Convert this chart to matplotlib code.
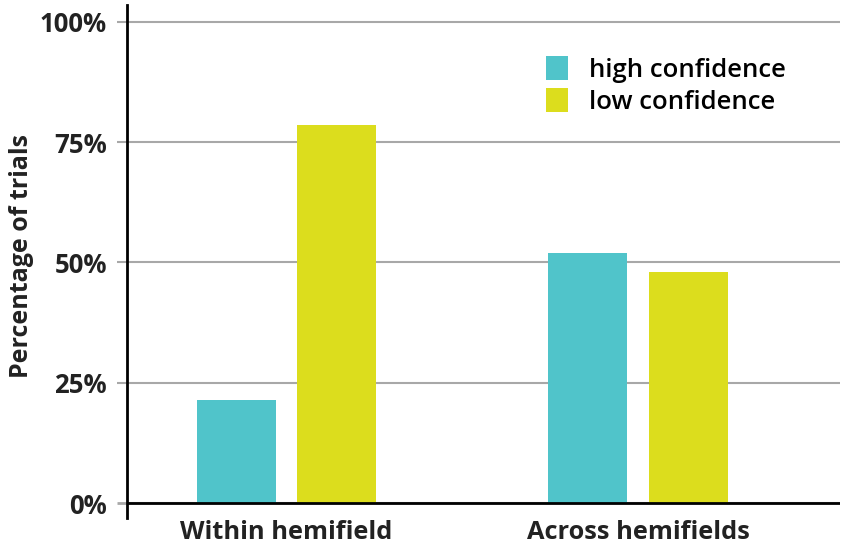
import numpy as np
import matplotlib.pyplot as plt

groups = ["Within hemifield", "Across hemifields"]
series = ["high confidence", "low confidence"]
high = [21.5, 52.0]
low = [78.5, 48.0]
yticks = [0, 25, 50, 75, 100]
ytick_labels = ["0%", "25%", "50%", "75%", "100%"]

colors = ["#50C4CA", "#DCDD1D"]

plt.rcParams['font.family'] = ['Open Sans', 'DejaVu Sans']

fig = plt.figure(figsize=(8.5, 5.48), dpi=100)
ax = fig.add_axes([127/850, 30/548, (840-127)/850, (518-5)/548])

x = np.arange(len(groups))
w = 0.225
off = 0.143
ax.bar(x - off, high, w, color=colors[0], label=series[0], zorder=3)
ax.bar(x + off, low, w, color=colors[1], label=series[1], zorder=3)

ax.set_xlim(-0.454, 1.575)
ax.set_ylim(-3.1, 103.5)

ax.set_yticks(yticks)
ax.set_yticklabels(ytick_labels, fontsize=18.5, fontweight='bold', color='#222222')
ax.yaxis.grid(True, color='#a8a8a8', linewidth=1.5, zorder=0)
ax.tick_params(axis='y', length=7.5, width=1.5, color='#a8a8a8', pad=7)
ax.yaxis.get_major_ticks()[0].tick1line.set_color('black')
ax.yaxis.get_major_ticks()[0].tick1line.set_markeredgewidth(2)
ax.axhline(0, color='black', linewidth=2, zorder=4)

ax.set_xticks(x)
ax.set_xticklabels(groups, fontsize=18.3, fontweight='bold', color='#222222')
ax.tick_params(axis='x', length=0, pad=1.5)

for s in ['top', 'right', 'bottom']:
    ax.spines[s].set_visible(False)
ax.spines['left'].set_linewidth(2)

ax.set_ylabel("Percentage of trials", fontsize=18, fontweight='bold', color='#222222', labelpad=4)
ax.yaxis.label.set_y(0.51)

ax.legend(loc='upper left', bbox_to_anchor=(0.588, 0.9), frameon=False,
          prop={'size': 18.5, 'weight': 'semibold'}, handlelength=0.85, handleheight=1.05,
          handletextpad=0.8, labelspacing=0.2, borderaxespad=0, borderpad=0)

fig.savefig("out.png", dpi=100)
